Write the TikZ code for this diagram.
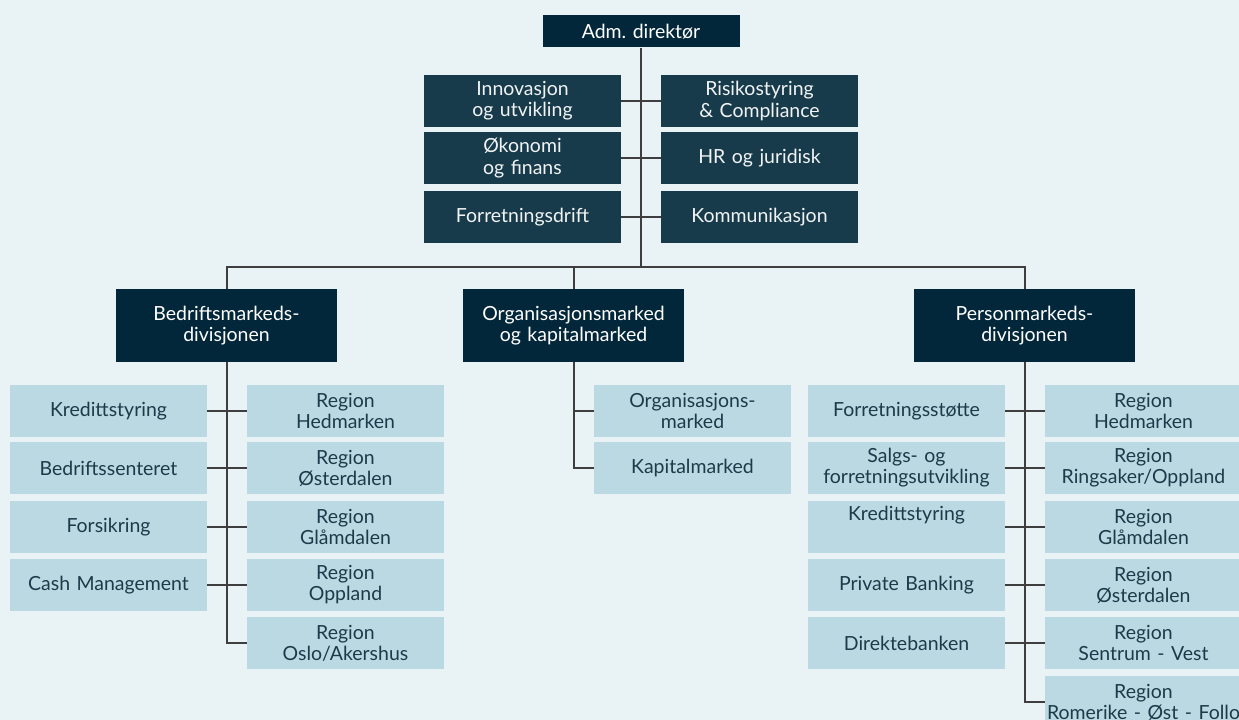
\documentclass[tikz,border=0pt]{standalone}
\usepackage{fontspec}
\setmainfont{Lato}
\frenchspacing
\definecolor{bgcol}{HTML}{E9F2F5}
\definecolor{navy}{HTML}{03273A}
\definecolor{teal}{HTML}{173B4B}
\definecolor{pale}{HTML}{BAD9E3}
\definecolor{paletext}{HTML}{1B3B4A}
\definecolor{linecol}{HTML}{3E3E3E}
\def\px{0.75pt}
\tikzset{
  box/.style={inner sep=0pt, align=center, font=\fontsize{14.6pt}{15.8pt}\selectfont,
    minimum width=197*\px, minimum height=52*\px, text width=196*\px},
  headbox/.style={box, fill=navy, text=white, minimum height=32*\px},
  staffbox/.style={box, fill=teal, text=white!94!teal},
  divbox/.style={box, fill=navy, text=white, minimum width=221*\px, minimum height=73*\px, text width=215*\px},
  unitbox/.style={box, fill=pale, text=paletext},
  link/.style={draw=linecol, line width=1.5pt}
}
\begin{document}
\begin{tikzpicture}[x=\px, y=-\px]
\useasboundingbox (0,0) rectangle (1239,720);
\clip (0,0) rectangle (1239,720);
\fill[bgcol] (0,0) rectangle (1239,720);

% top level
\node[headbox] (adm) at (641,31.5) {Adm. direktør};

% staff units
\node[staffbox] (inn) at (522.5,101) {Innovasjon\\og utvikling};
\node[staffbox] (ris) at (759.5,101) {Risikostyring\\\& Compliance};
\node[staffbox] (oko) at (522.5,158) {Økonomi\\og finans};
\node[staffbox] (hrj) at (759.5,158) {HR og juridisk};
\node[staffbox] (fdr) at (522.5,217) {Forretningsdrift};
\node[staffbox] (kom) at (759.5,217) {Kommunikasjon};

% divisions
\node[divbox] (bed) at (226.5,325.5) {Bedriftsmarkeds-\\divisjonen};
\node[divbox] (org) at (573.5,325.5) {Organisasjonsmarked\\og kapitalmarked};
\node[divbox] (per) at (1024.5,325.5) {Personmarkeds-\\divisjonen};

% business market units
\node[unitbox] (bkred) at (108.5,411) {Kredittstyring};
\node[unitbox] (bsen)  at (108.5,468) {Bedriftssenteret};
\node[unitbox] (bfor)  at (108.5,527) {Forsikring};
\node[unitbox] (bcash) at (108.5,585) {Cash Management};
\node[unitbox] (bhed)  at (345.5,411) {Region\\Hedmarken};
\node[unitbox] (bost)  at (345.5,468) {Region\\Østerdalen};
\node[unitbox] (bgla)  at (345.5,527) {Region\\Glåmdalen};
\node[unitbox] (bopp)  at (345.5,585) {Region\\Oppland};
\node[unitbox] (boslo) at (345.5,643) {Region\\Oslo/Akershus};

% organisation and capital market units
\node[unitbox] (oorg) at (692.5,411) {Organisasjons-\\marked};
\node[unitbox] (okap) at (692.5,468) {Kapitalmarked};

% retail market units
\node[unitbox] (pfst)  at (906.5,411) {Forretningsstøtte};
\node[unitbox] (psal)  at (906.5,468) {Salgs- og\\forretningsutvikling};
\node[unitbox] (pkred) at (906.5,527) {Kredittstyring\\\strut};
\node[unitbox] (ppb)   at (906.5,585) {Private Banking};
\node[unitbox] (pdir)  at (906.5,643) {Direktebanken};
\node[unitbox] (phed)  at (1143.5,411) {Region\\Hedmarken};
\node[unitbox] (pring) at (1143.5,468) {Region\\Ringsaker/Oppland};
\node[unitbox] (pgla)  at (1143.5,527) {Region\\Glåmdalen};
\node[unitbox] (post)  at (1143.5,585) {Region\\Østerdalen};
\node[unitbox] (psv)   at (1143.5,643) {Region\\Sentrum - Vest};
\node[unitbox] (prom)  at (1143.5,702) {Region\\Romerike - Øst - Follo};

% connectors
\coordinate (bus) at (641,267);
\draw[link] (adm.south) -- (bus);
\draw[link] (bed.north) |- (bus) -| (per.north);
\draw[link] (org.north) -- (org.north |- bus);
\draw[link] (inn.east) -- (ris.west);
\draw[link] (oko.east) -- (hrj.west);
\draw[link] (fdr.east) -- (kom.west);

\draw[link] (bed.south) |- (boslo.west);
\draw[link] (bkred.east) -- (bhed.west);
\draw[link] (bsen.east) -- (bost.west);
\draw[link] (bfor.east) -- (bgla.west);
\draw[link] (bcash.east) -- (bopp.west);

\draw[link] (org.south) |- (okap.west);
\draw[link] (oorg.west) -- (oorg.west -| org.south);

\draw[link] (per.south) |- (prom.west);
\draw[link] (pfst.east) -- (phed.west);
\draw[link] (psal.east) -- (pring.west);
\draw[link] (pkred.east) -- (pgla.west);
\draw[link] (ppb.east) -- (post.west);
\draw[link] (pdir.east) -- (psv.west);
\end{tikzpicture}
\end{document}
